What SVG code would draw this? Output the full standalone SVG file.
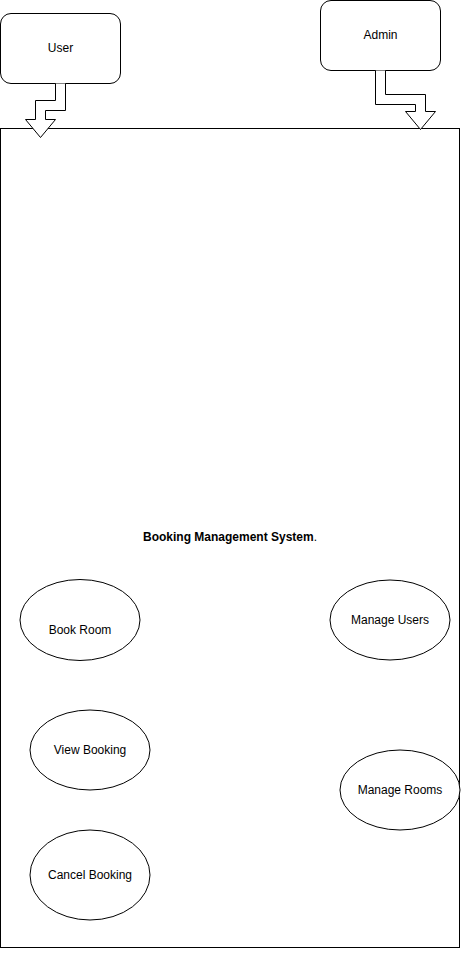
<svg xmlns="http://www.w3.org/2000/svg" width="461" height="957" viewBox="0 0 461 957">
<style>
.shape{fill:#ffffff;stroke:#000000;stroke-width:1}
.lbl{font-family:"Liberation Sans",Arial,Helvetica,sans-serif;font-size:12px;fill:#000000;text-anchor:middle;dominant-baseline:central}
.arrow{fill:#ffffff;stroke:#000000;stroke-width:1;stroke-linejoin:miter}
</style>
<rect width="461" height="957" fill="#ffffff"/>
<g id="system">
<rect class="shape" x="0.5" y="128.5" width="459" height="819"/>
<text class="lbl" x="230" y="537"><tspan font-weight="bold">Booking Management System</tspan>.</text>
</g>
<g id="user">
<rect class="shape" x="0.5" y="13.5" width="120" height="70" rx="10.5" ry="10.5"/>
<text class="lbl" x="60.5" y="48">User</text>
</g>
<g id="admin">
<rect class="shape" x="320.5" y="0.5" width="120" height="70" rx="10.5" ry="10.5"/>
<text class="lbl" x="380.5" y="35">Admin</text>
</g>
<g id="connectors">
<path class="arrow" d="M55.5,83.5 L55.5,100.5 L35.5,100.5 L35.5,119.5 L25.5,119.5 L40.5,137.5 L55.5,119.5 L45.5,119.5 L45.5,110.5 L65.5,110.5 L65.5,83.5"/>
<path class="arrow" d="M375.5,70.5 L375.5,104.5 L415.5,104.5 L415.5,111.5 L405.5,111.5 L420.5,129.5 L435.5,111.5 L425.5,111.5 L425.5,94.5 L385.5,94.5 L385.5,70.5"/>
</g>
<g id="book-room">
<ellipse class="shape" cx="80" cy="620" rx="60" ry="40.5"/>
<text class="lbl" x="80" y="630">Book Room</text>
</g>
<g id="manage-users">
<ellipse class="shape" cx="390" cy="620" rx="60" ry="40"/>
<text class="lbl" x="390" y="620">Manage Users</text>
</g>
<g id="view-booking">
<ellipse class="shape" cx="90" cy="750" rx="60" ry="40"/>
<text class="lbl" x="90" y="750">View Booking</text>
</g>
<g id="manage-rooms">
<ellipse class="shape" cx="400" cy="790" rx="60" ry="40"/>
<text class="lbl" x="400" y="790">Manage Rooms</text>
</g>
<g id="cancel-booking">
<ellipse class="shape" cx="90" cy="875" rx="60" ry="45"/>
<text class="lbl" x="90" y="875">Cancel Booking</text>
</g>
</svg>
